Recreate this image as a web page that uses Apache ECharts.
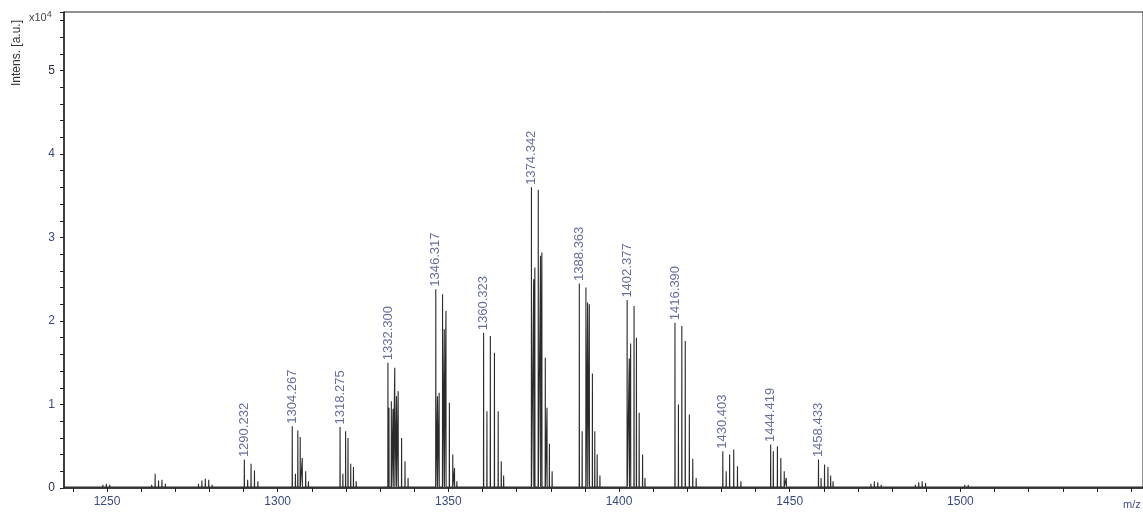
<!DOCTYPE html>
<html>
<head>
<meta charset="utf-8">
<script src="https://cdn.jsdelivr.net/npm/echarts@6/dist/echarts.min.js"></script>
<style>
html,body{margin:0;padding:0;background:#fff;}
#chart{width:1143px;height:512px;}
</style>
</head>
<body>
<div id="chart"></div>
<script>
// ---- data (m/z, intensity in units of 1e4) ----
const peakMz = [
  1247.8,1248.8,1249.8,1250.8,1251.8,
  1263.1,1264.1,1265.1,1266.1,1267.1,1268.1,
  1275.8,1276.8,1277.8,1278.8,1279.8,1280.8,
  1290.232,1291.2,1292.2,1293.2,1294.2,1295.2,
  1304.267,1305.2,1305.9,1306.6,1307.2,1308.2,1309.0,
  1318.275,1319.1,1319.9,1320.6,1321.4,1322.2,1323.0,
  1332.300,1332.6,1333.3,1333.8,1334.3,1334.8,1335.3,1336.3,1337.3,1338.2,
  1346.317,1346.8,1347.3,1348.3,1348.8,1349.3,1350.3,1351.3,1351.8,1352.5,
  1360.323,1361.3,1362.3,1363.5,1364.6,1365.5,1366.2,
  1374.342,1375.0,1375.34,1376.34,1377.0,1377.4,1378.4,1378.9,1379.6,1380.4,
  1388.363,1389.2,1390.3,1390.8,1391.3,1392.2,1392.9,1393.6,1394.4,
  1402.377,1403.0,1403.4,1404.4,1405.1,1405.9,1406.9,1407.6,
  1416.390,1417.4,1418.4,1419.4,1420.6,1421.6,1422.6,
  1430.403,1431.4,1432.4,1433.6,1434.7,1435.7,
  1444.419,1445.2,1446.4,1447.4,1448.4,1449.0,
  1458.433,1459.2,1460.2,1461.2,1462.0,1462.7,
  1473.8,1474.8,1475.8,1476.8,
  1486.8,1487.8,1488.8,1489.8,1490.8,
  1500.3,1501.3,1502.3,1503.3
];
const peakIntensity = [
  0.02,0.04,0.05,0.04,0.02,
  0.04,0.17,0.09,0.10,0.05,0.02,
  0.03,0.05,0.09,0.11,0.10,0.04,
  0.34,0.10,0.29,0.21,0.08,0.03,
  0.74,0.17,0.69,0.61,0.36,0.20,0.08,
  0.73,0.17,0.68,0.60,0.29,0.25,0.08,
  1.50,0.96,1.04,0.95,1.44,1.10,1.16,0.60,0.32,0.12,
  2.38,1.10,1.14,2.32,1.90,2.12,1.02,0.40,0.24,0.08,
  1.86,0.92,1.82,1.62,0.92,0.32,0.15,
  3.60,2.50,2.64,3.57,2.78,2.82,1.56,0.96,0.53,0.20,
  2.45,0.68,2.40,2.22,2.20,1.37,0.68,0.40,0.15,
  2.25,1.55,1.73,2.18,1.80,0.90,0.40,0.12,
  1.98,1.00,1.94,1.76,0.88,0.35,0.12,
  0.44,0.20,0.40,0.46,0.26,0.08,
  0.52,0.44,0.50,0.36,0.20,0.12,
  0.34,0.12,0.28,0.25,0.15,0.08,
  0.05,0.08,0.07,0.04,
  0.04,0.07,0.08,0.06,0.03,
  0.02,0.04,0.04,0.03
];
const labelMz = [1290.232,1304.267,1318.275,1332.300,1346.317,1360.323,1374.342,1388.363,1402.377,1416.390,1430.403,1444.419,1458.433];
const labelIntensity = [0.34,0.74,0.73,1.50,2.38,1.86,3.60,2.45,2.25,1.98,0.44,0.52,0.34];
const labelText = ['1290.232','1304.267','1318.275','1332.300','1346.317','1360.323','1374.342','1388.363','1402.377','1416.390','1430.403','1444.419','1458.433'];
const xTickValues = [1240,1250,1260,1270,1280,1290,1300,1310,1320,1330,1340,1350,1360,1370,1380,1390,1400,1410,1420,1430,1440,1450,1460,1470,1480,1490,1500,1510,1520,1530,1540,1550];
const xLabelValues = [1250,1300,1350,1400,1450,1500];
const yLabelValues = [0,1,2,3,4,5];
const baseline = 0.012;
const xMin = 1237.4, xMax = 1553.5;

// ---- build spectrum polyline ----
const spectrum = [[xMin, baseline]];
peakMz.forEach((m, i) => {
  spectrum.push([m - 0.04, baseline]);
  spectrum.push([m, peakIntensity[i]]);
  spectrum.push([m + 0.04, baseline]);
});
spectrum.push([xMax, baseline]);

const labelData = labelMz.map((m, i) => ({value: [m, labelIntensity[i]], name: labelText[i]}));

const labelBlue = '#3c4a82';
const chart = echarts.init(document.getElementById('chart'), null, {renderer: 'canvas'});
chart.setOption({
  animation: false,
  backgroundColor: '#fff',
  grid: {left: 64, top: 12, right: -2, bottom: 24, show: true, borderColor: '#222', borderWidth: 1},
  xAxis: {
    type: 'value', min: xMin, max: xMax,
    axisLine: {show: true, onZero: false, lineStyle: {color: '#222', width: 1.5}},
    axisTick: {show: true, length: 4, customValues: xTickValues, lineStyle: {color: '#222'}},
    axisLabel: {customValues: xLabelValues, color: labelBlue, fontSize: 12, fontFamily: 'Liberation Sans, Arial', margin: 8,
      formatter: (v) => String(Math.round(v))},
    splitLine: {show: false}
  },
  yAxis: {
    type: 'value', min: 0, max: 5.7, interval: 0.2,
    axisLine: {show: true, lineStyle: {color: '#222', width: 1.5}},
    axisTick: {show: true, length: 4, lineStyle: {color: '#222'}},
    axisLabel: {
      fontSize: 12, fontFamily: 'Liberation Sans, Arial', margin: 9,
      color: (v) => (Math.abs(v) < 1e-6 || Math.abs(v - 5) < 1e-6) ? '#2a2f45' : labelBlue,
      formatter: (v) => {
        const r = Math.round(v);
        return (Math.abs(v - r) < 1e-6 && yLabelValues.indexOf(r) >= 0) ? String(r) : '';
      }
    },
    splitLine: {show: false}
  },
  series: [
    {
      type: 'line', data: spectrum, showSymbol: false, symbol: 'none',
      lineStyle: {color: '#2b2b2b', width: 1.1}, silent: true, z: 2
    },
    {
      type: 'scatter', data: labelData, symbol: 'rect', symbolSize: [1, 1],
      itemStyle: {color: 'rgba(0,0,0,0)'}, silent: true, z: 3,
      label: {
        show: true, position: 'top', distance: 2, rotate: 90,
        align: 'left', verticalAlign: 'middle',
        formatter: (p) => p.name, color: labelBlue, fontSize: 13,
        fontFamily: 'Liberation Sans, Arial'
      }
    }
  ],
  graphic: [
    {type: 'text', left: 11, top: 20, rotation: Math.PI / 2,
     style: {text: 'Intens. [a.u.]', fontSize: 12, fill: '#333', fontFamily: 'Liberation Sans, Arial'}},
    {type: 'text', left: 29, top: 10,
     style: {text: '{a|x10}{b|4}', rich: {a: {fontSize: 11, fill: '#444', fontFamily: 'Liberation Sans, Arial'}, b: {fontSize: 9, fill: '#444', verticalAlign: 'top', padding: [0,0,6,0], fontFamily: 'Liberation Sans, Arial'}}}},
    {type: 'text', left: 1123, top: 499,
     style: {text: 'm/z', fontSize: 11, fill: labelBlue, fontFamily: 'Liberation Sans, Arial'}}
  ]
});
</script>
</body>
</html>
